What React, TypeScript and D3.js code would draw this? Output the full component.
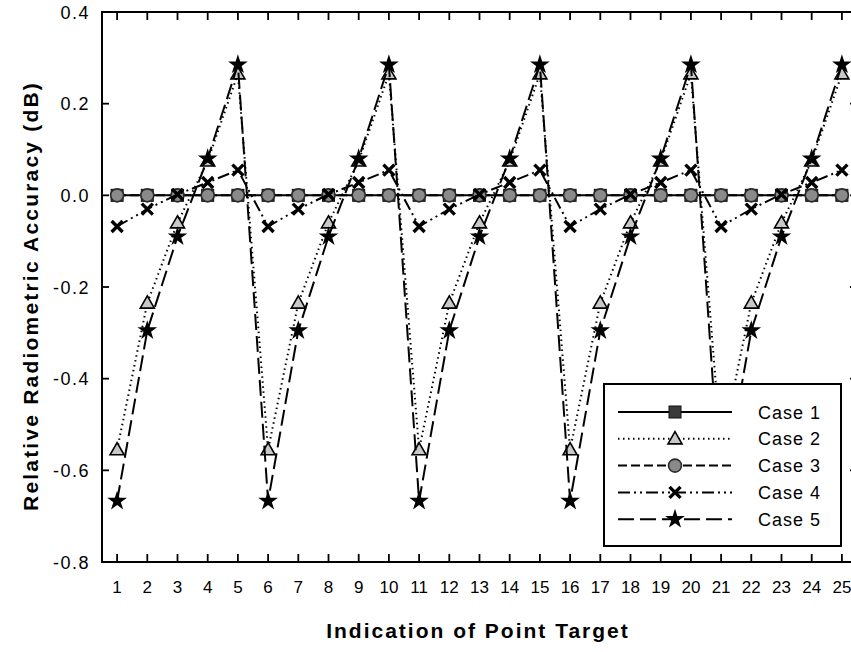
import React from "react";
import * as d3 from "d3";

// point target indices
const targets = d3.range(1, 26);

// relative radiometric accuracy (dB)
const case1 = [0, 0, 0, 0, 0, 0, 0, 0, 0, 0, 0, 0, 0, 0, 0, 0, 0, 0, 0, 0, 0, 0, 0, 0, 0];
const case2 = [
  -0.555, -0.235, -0.06, 0.075, 0.265,
  -0.555, -0.235, -0.06, 0.075, 0.265,
  -0.555, -0.235, -0.06, 0.075, 0.265,
  -0.555, -0.235, -0.06, 0.075, 0.265,
  -0.555, -0.235, -0.06, 0.075, 0.265,
];
const case3 = [0, 0, 0, 0, 0, 0, 0, 0, 0, 0, 0, 0, 0, 0, 0, 0, 0, 0, 0, 0, 0, 0, 0, 0, 0];
const case4 = [
  -0.068, -0.03, 0.002, 0.028, 0.055,
  -0.068, -0.03, 0.002, 0.028, 0.055,
  -0.068, -0.03, 0.002, 0.028, 0.055,
  -0.068, -0.03, 0.002, 0.028, 0.055,
  -0.068, -0.03, 0.002, 0.028, 0.055,
];
const case5 = [
  -0.667, -0.295, -0.09, 0.08, 0.285,
  -0.667, -0.295, -0.09, 0.08, 0.285,
  -0.667, -0.295, -0.09, 0.08, 0.285,
  -0.667, -0.295, -0.09, 0.08, 0.285,
  -0.667, -0.295, -0.09, 0.08, 0.285,
];
const seriesNames = ["Case 1", "Case 2", "Case 3", "Case 4", "Case 5"];
const yTicks = [0.4, 0.2, 0.0, -0.2, -0.4, -0.6, -0.8];

const width = 851;
const height = 652;
const left = 102;
const top = 12;
const bottom = 562;

const styles = [
  { dash: null, marker: "square" },
  { dash: "1.5,3.5", marker: "triangle" },
  { dash: "9,4", marker: "circle" },
  { dash: "12,4,2,4,2,4", marker: "cross" },
  { dash: "16,6", marker: "star" },
];

const triPath = d3.symbol().type(d3.symbolTriangle).size(85)() as string;
const starPath = d3.symbol().type(d3.symbolStar).size(120)() as string;

function Marker({ kind, x, y }: { kind: string; x: number; y: number }) {
  const t = `translate(${x},${y})`;
  if (kind === "square")
    return <rect x={x - 6} y={y - 6} width={12} height={12} fill="#3a3a3a" stroke="#111" strokeWidth={1} />;
  if (kind === "circle")
    return <circle cx={x} cy={y} r={6.5} fill="#8a8a8a" stroke="#2a2a2a" strokeWidth={1.6} />;
  if (kind === "triangle")
    return <path d={triPath} transform={`translate(${x},${y + 1})`} fill="#c8c8c8" stroke="#000" strokeWidth={1.6} />;
  if (kind === "cross")
    return <path d="M-5.5,-5.5L5.5,5.5M-5.5,5.5L5.5,-5.5" transform={t} stroke="#000" strokeWidth={3.4} fill="none" />;
  return <path d={starPath} transform={t} fill="#000" />;
}

export default function App() {
  const x = d3.scaleLinear().domain([0.5, 25.5]).range([left, left + 25 * 30.2]);
  const y = d3.scaleLinear().domain([-0.8, 0.4]).range([bottom, top]);
  const right = x(25.5);
  const data = [case1, case2, case3, case4, case5];
  const line = d3
    .line<number>()
    .x((_, i) => x(targets[i]))
    .y((d) => y(d));

  const font = "Arial, 'Liberation Sans', Helvetica, sans-serif";
  const legend = { x: 604, y: 384, w: 237, h: 162 };

  return (
    <svg width={width} height={height} style={{ position: "absolute", left: 0, top: 0, background: "#fff" }} fontFamily={font}>
      {/* series */}
      {data.map((vals, k) => (
        <g key={k}>
          <path
            d={line(vals) as string}
            fill="none"
            stroke="#000"
            strokeWidth={2}
            strokeDasharray={styles[k].dash || undefined}
          />
          {vals.map((v, i) => (
            <Marker key={i} kind={styles[k].marker} x={x(targets[i])} y={y(v)} />
          ))}
        </g>
      ))}

      {/* frame */}
      <rect x={left} y={top} width={right - left} height={bottom - top} fill="none" stroke="#000" strokeWidth={2} />

      {/* x ticks */}
      {targets.map((t) => (
        <g key={t}>
          <line x1={x(t)} x2={x(t)} y1={bottom} y2={bottom - 8} stroke="#000" strokeWidth={1.8} />
          <line x1={x(t)} x2={x(t)} y1={top} y2={top + 8} stroke="#000" strokeWidth={1.8} />
          <text x={x(t)} y={593} textAnchor="middle" fontSize={17} fill="#000">
            {t}
          </text>
        </g>
      ))}

      {/* y ticks */}
      {yTicks.map((v) => (
        <g key={v}>
          <line x1={left} x2={left + 7} y1={y(v)} y2={y(v)} stroke="#000" strokeWidth={1.8} />
          <line x1={right} x2={right - 7} y1={y(v)} y2={y(v)} stroke="#000" strokeWidth={1.8} />
          <text x={90} y={y(v) + 6.5} textAnchor="end" fontSize={18} letterSpacing={1.5} fill="#000">
            {d3.format(".1f")(v).replace("−", "-")}
          </text>
        </g>
      ))}

      {/* axis titles */}
      <text x={478} y={638} textAnchor="middle" fontSize={21} fontWeight="bold" letterSpacing={2}>
        Indication of Point Target
      </text>
      <text
        transform={`translate(38,${296}) rotate(-90)`}
        textAnchor="middle"
        fontSize={21}
        fontWeight="bold"
        letterSpacing={2.2}
      >
        Relative Radiometric Accuracy (dB)
      </text>

      {/* legend */}
      <rect x={legend.x} y={legend.y} width={legend.w} height={legend.h} fill="#fff" stroke="#000" strokeWidth={2} />
      {seriesNames.map((name, k) => {
        const ly = 412 + k * 26.8;
        return (
          <g key={name}>
            <line
              x1={618}
              x2={732}
              y1={ly}
              y2={ly}
              stroke="#000"
              strokeWidth={2}
              strokeDasharray={styles[k].dash || undefined}
            />
            <Marker kind={styles[k].marker} x={675} y={ly} />
            <text x={758} y={ly + 6.5} fontSize={18} letterSpacing={1} fill="#000">
              {name}
            </text>
          </g>
        );
      })}
    </svg>
  );
}
